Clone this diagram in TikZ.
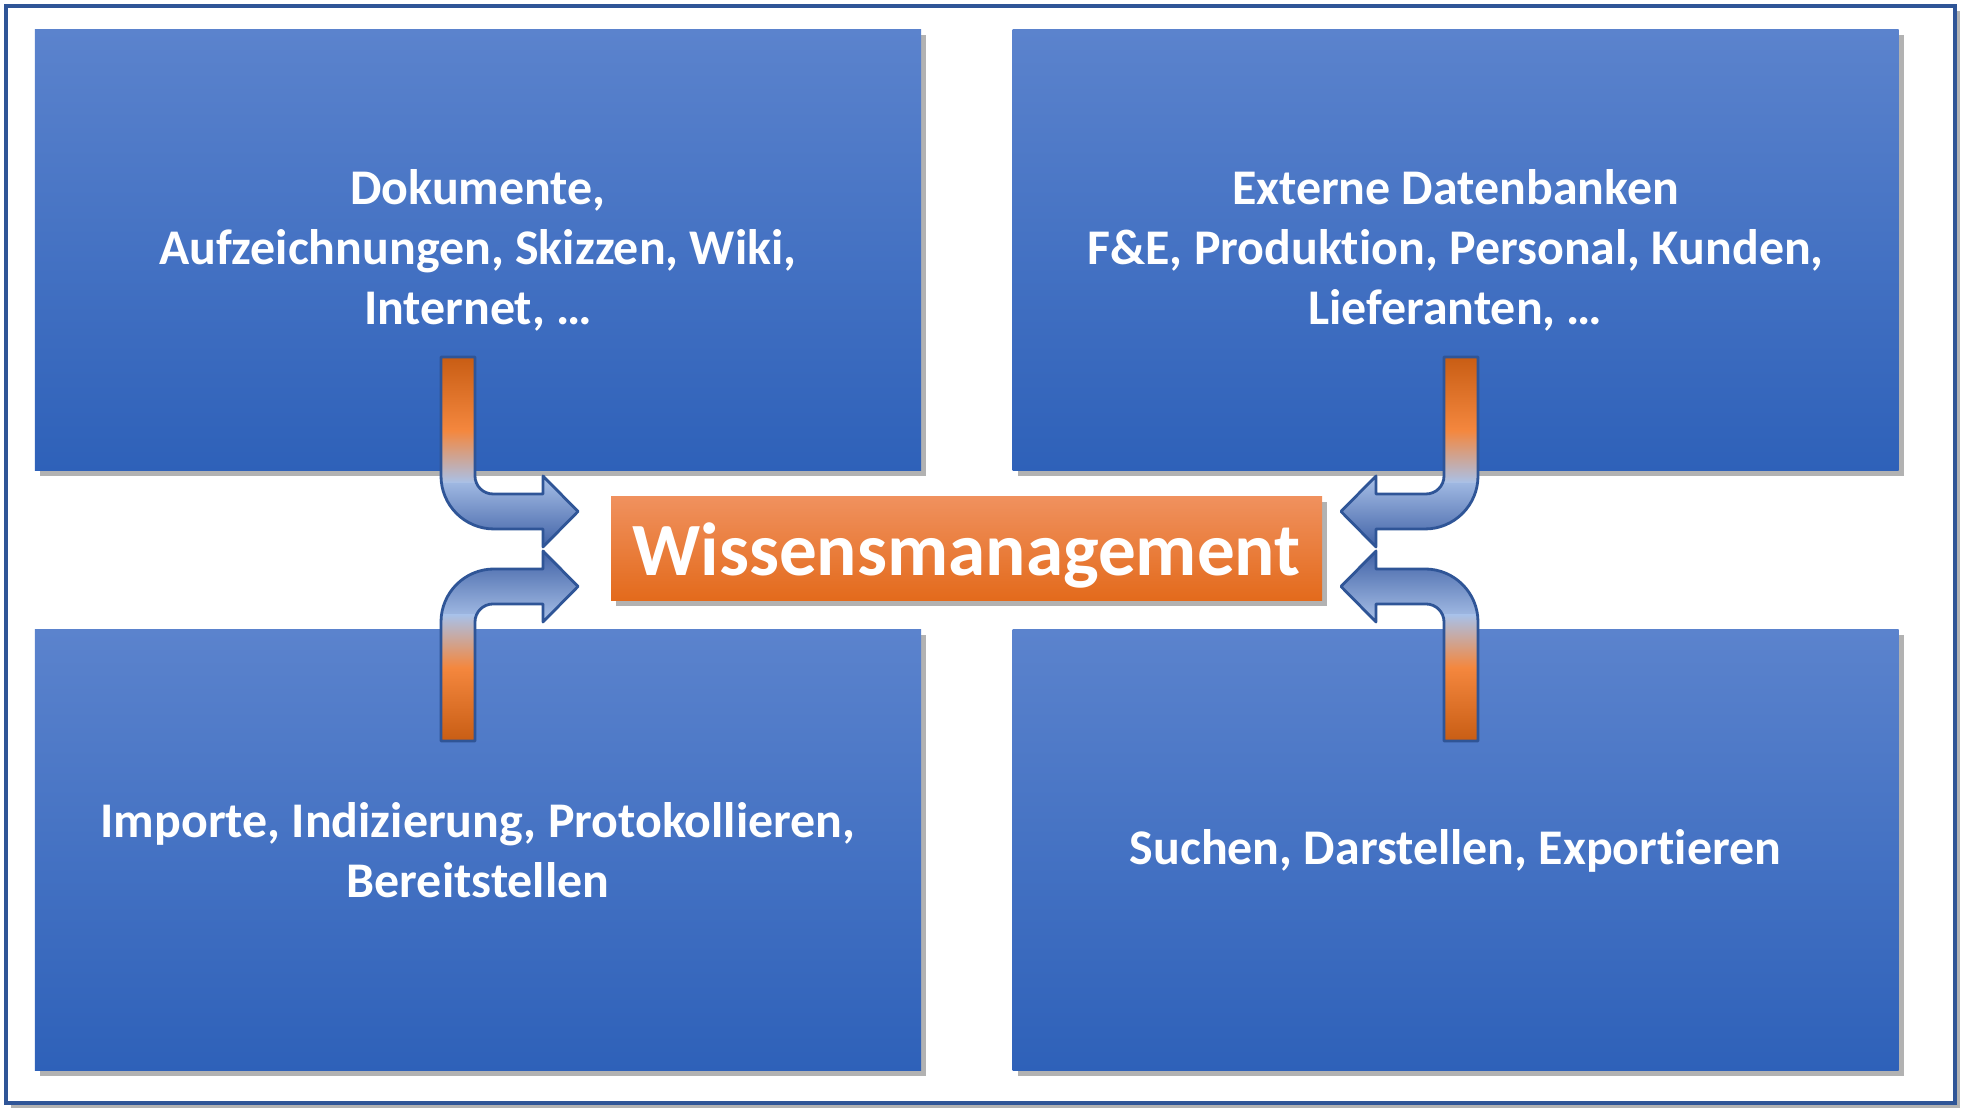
\documentclass[tikz,border=0pt]{standalone}
\usepackage{fontspec}
\setmainfont[Ligatures=NoCommon]{Carlito}
\usepackage{xcolor}
\usetikzlibrary{shadows}
\definecolor{frameblue}{HTML}{2F5597}
\definecolor{boxtop}{HTML}{5B83CD}
\definecolor{boxbot}{HTML}{2E61B9}
\definecolor{hubtop}{HTML}{F0915E}
\definecolor{hubmid}{HTML}{F27D30}
\definecolor{hubbot}{HTML}{E36A1B}
\definecolor{ardark}{HTML}{C55A11}
\definecolor{armid}{HTML}{F4873E}
\definecolor{arlight}{HTML}{A9C1E8}
\definecolor{arblue}{HTML}{3A5CA2}
% bar shadings: bend at 25bp, bar end at 75bp
\pgfdeclareverticalshading{barup}{100bp}{color(0bp)=(arlight); color(25bp)=(arlight); color(45bp)=(armid); color(75bp)=(ardark); color(100bp)=(ardark)}
\pgfdeclareverticalshading{bardown}{100bp}{color(0bp)=(ardark); color(25bp)=(ardark); color(55bp)=(armid); color(75bp)=(arlight); color(100bp)=(arlight)}
% canonical bent block arrow: origin at the bend, bar going up, head pointing right
\newcommand{\bendpath}{(-0.17,1.545) -- (0.17,1.545) -- (0.17,0.355) arc (180:270:0.18)
  -- (0.85,0.175) -- (0.85,0.355) -- (1.20,0) -- (0.85,-0.355) -- (0.85,-0.175)
  -- (0.36,-0.175) arc (270:180:0.53) -- cycle}
% #1 shaft shading, #2 bar shading (shadings are not mirrored with the scope)
\newcommand{\bendarrow}[2]{%
  \begin{scope}
    \clip \bendpath;
    \shade[#1] (-0.2,-0.4) rectangle (1.3,0.36);
    \shade[shading=#2] (-0.2,0.285) rectangle (0.2,1.6);
  \end{scope}
  \draw[frameblue, line width=0.8pt, line join=round] \bendpath;}
\tikzset{
  every node/.style={text=white},
  softshadow/.style={drop shadow={shadow xshift=0.05cm, shadow yshift=-0.05cm, opacity=0.3, fill=black}},
  infobox/.style={rectangle, top color=boxtop, bottom color=boxbot, softshadow, align=center,
                  minimum width=8.86cm, minimum height=4.41cm, inner sep=0pt,
                  font=\fontsize{14.2}{17}\selectfont\bfseries},
  hubbox/.style={rectangle, top color=hubtop, middle color=hubmid, bottom color=hubbot, softshadow,
                 minimum width=7.11cm, minimum height=1.04cm, inner sep=0pt, text depth=0pt,
                 font=\fontsize{21.4}{26}\selectfont\bfseries},
  frame/.style={draw=frameblue, fill=white, line width=1.4pt, softshadow},
  upshaft/.style={top color=arlight, bottom color=arblue},
  downshaft/.style={top color=arblue, bottom color=arlight},
}
\begin{document}
\begin{tikzpicture}[x=1cm,y=1cm]
  \fill[white] (0,0) rectangle (19.71,11.18);
  \useasboundingbox (0,0) rectangle (19.71,11.18);
  \draw[frame] (0.06,0.15) rectangle (19.55,11.12);

  % ---- four blocks ----
  \node[infobox] (docs)   at (4.78,8.675)  {Dokumente,\\Aufzeichnungen, Skizzen, Wiki,\\Internet, …};
  \node[infobox] (extdb)  at (14.555,8.675) {Externe Datenbanken\\F\&E, Produktion, Personal, Kunden,\\Lieferanten, …};
  \node[infobox] (import) at (4.78,2.675)  {Importe, Indizierung, Protokollieren,\\Bereitstellen};
  \node[infobox] (search) at (14.555,2.675) {Suchen, Darstellen, Exportieren};

  % ---- centre ----
  \node[hubbox] (wm) at (9.665,5.69) {Wissensmanagement};

  % ---- bent arrows into the centre ----
  \coordinate (docs-bend)   at (4.58,6.065);
  \coordinate (import-bend) at (4.58,5.315);
  \coordinate (extdb-bend)  at (14.61,6.065);
  \coordinate (search-bend) at (14.61,5.315);
  \begin{scope}[shift={(docs-bend)}]               \bendarrow{upshaft}{barup} \end{scope}
  \begin{scope}[shift={(import-bend)}, yscale=-1]  \bendarrow{downshaft}{bardown} \end{scope}
  \begin{scope}[shift={(extdb-bend)}, xscale=-1]   \bendarrow{upshaft}{barup} \end{scope}
  \begin{scope}[shift={(search-bend)}, scale=-1]   \bendarrow{downshaft}{bardown} \end{scope}
\end{tikzpicture}
\end{document}
